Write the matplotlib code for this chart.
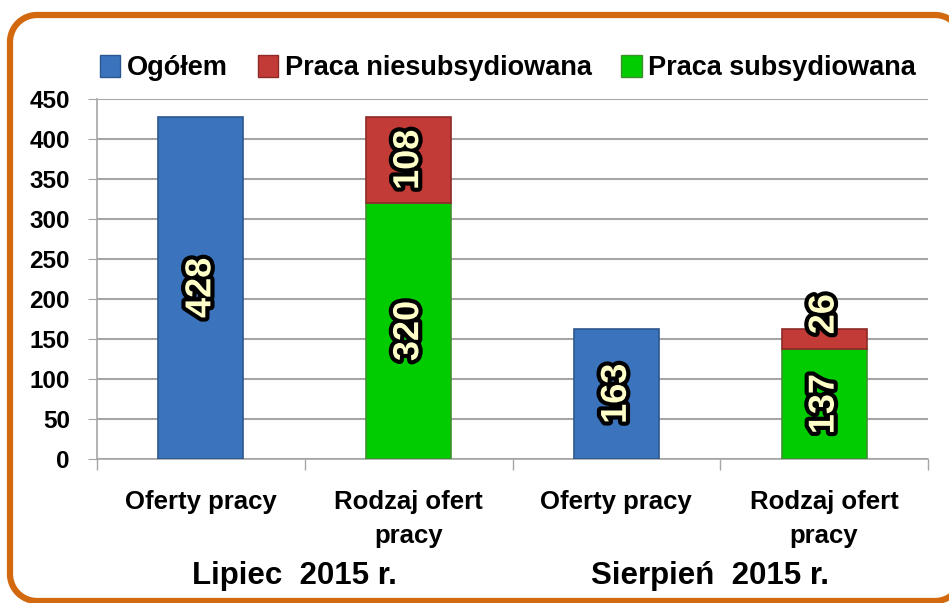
import numpy as np
import matplotlib.pyplot as plt
import matplotlib.patheffects as pe
from matplotlib.patches import Patch

# ── DANE ──────────────────────────────────────────────────────────────────────
kategorie = ["Oferty pracy", "Rodzaj ofert\npracy", "Oferty pracy", "Rodzaj ofert\npracy"]
miesiace = ["Lipiec  2015 r.", "Sierpień  2015 r."]
ogolem = [428, 0, 163, 0]
niesubsydiowana = [0, 108, 0, 26]
subsydiowana = [0, 320, 0, 137]
serie = ["Ogółem", "Praca niesubsydiowana", "Praca subsydiowana"]
y_ticks = [0, 50, 100, 150, 200, 250, 300, 350, 400, 450]

# ── STYL ──────────────────────────────────────────────────────────────────────
plt.rcParams['font.family'] = ['Liberation Sans', 'DejaVu Sans']
plt.rcParams['font.weight'] = 'bold'
kolory = {'Ogółem': '#3B74BC', 'Praca niesubsydiowana': '#C23B36', 'Praca subsydiowana': '#00CC00'}
krawedzie = {'Ogółem': '#2C578E', 'Praca niesubsydiowana': '#8E2A27', 'Praca subsydiowana': '#3F8F2F'}

fig = plt.figure(figsize=(9.49, 6.03), dpi=100)

# ── RAMKA (warstwa w pikselach) ───────────────────────────────────────────────
tlo = fig.add_axes([0, 0, 1, 1])
tlo.set_xlim(0, 949)
tlo.set_ylim(603, 0)
tlo.axis('off')


def zaokraglony(x0, y0, x1, y1, r):
    t = np.linspace(0, np.pi / 2, 30)
    px, py = [], []
    # lewy górny, prawy górny, prawy dolny, lewy dolny
    for cx, cy, a0 in [(x0 + r, y0 + r, np.pi), (x1 - r, y0 + r, 1.5 * np.pi),
                       (x1 - r, y1 - r, 0), (x0 + r, y1 - r, 0.5 * np.pi)]:
        px += list(cx + r * np.cos(a0 + t))
        py += list(cy + r * np.sin(a0 + t))
    px.append(px[0])
    py.append(py[0])
    return px, py


rx, ry = zaokraglony(10, 15, 962, 601, 27)
tlo.plot(rx, ry, color='#D2690E', linewidth=4.5, clip_on=False, solid_capstyle='round')

ax = fig.add_axes([97 / 949, 1 - 459 / 603, (928 - 97) / 949, 360 / 603])
ax.patch.set_alpha(0)

x = np.arange(len(kategorie))
w = 0.41

obramowanie = dict(path_effects=[pe.withStroke(linewidth=6, foreground='black')])


def slupki(values, bottoms, nazwa):
    idx = [i for i, v in enumerate(values) if v > 0]
    vals = [values[i] for i in idx]
    bots = [bottoms[i] for i in idx]
    ax.bar(x[idx], vals, w, bottom=bots, color=kolory[nazwa], edgecolor=krawedzie[nazwa],
           linewidth=1.2, zorder=3)
    for i, v, b0 in zip(idx, vals, bots):
        yc = b0 + v / 2
        if v < 60:
            yc = b0 + v + 18
        ax.text(x[i], yc, str(v), rotation=90, ha='center', va='center', fontsize=26,
                fontweight='bold', color='#FFFFC8', zorder=5, **obramowanie)


slupki(ogolem, [0] * 4, 'Ogółem')
slupki(subsydiowana, [0] * 4, 'Praca subsydiowana')
slupki(niesubsydiowana, subsydiowana, 'Praca niesubsydiowana')

ax.set_xlim(-0.5, len(kategorie) - 0.5)
ax.set_ylim(0, 450)
ax.set_yticks(y_ticks)
ax.tick_params(axis='y', labelsize=17.5, length=6.5, color='#A6A6A6', pad=13)
ax.yaxis.grid(True, color='#A6A6A6', linewidth=1.5, zorder=0)
ax.set_axisbelow(True)

ax.set_xticks(x)
ax.set_xticklabels(kategorie, fontsize=18.5, linespacing=1.55)
ax.tick_params(axis='x', length=0, pad=22)
ax.set_xticks(np.arange(-0.5, len(kategorie)), minor=True)
ax.tick_params(axis='x', which='minor', length=8, color='#A6A6A6', width=1)

for s in ['top', 'right']:
    ax.spines[s].set_visible(False)
for s in ['left', 'bottom']:
    ax.spines[s].set_color('#A6A6A6')
    ax.spines[s].set_linewidth(1.2)

for i, m in enumerate(miesiace):
    ax.text(2 * i + 0.45, -146, m, ha='center', va='center', fontsize=22.5,
            fontweight='bold', clip_on=False)

# ── LEGENDA ───────────────────────────────────────────────────────────────────
uchwyty = [Patch(facecolor=kolory[s], edgecolor=krawedzie[s]) for s in serie]
fig.legend(uchwyty, serie, loc='center', bbox_to_anchor=(508 / 949, 1 - 68 / 603),
           ncol=3, frameon=False, fontsize=19.5, handlelength=0.75, handleheight=0.9,
           handletextpad=0.25, columnspacing=1.1)

fig.savefig("out.png", dpi=100)
